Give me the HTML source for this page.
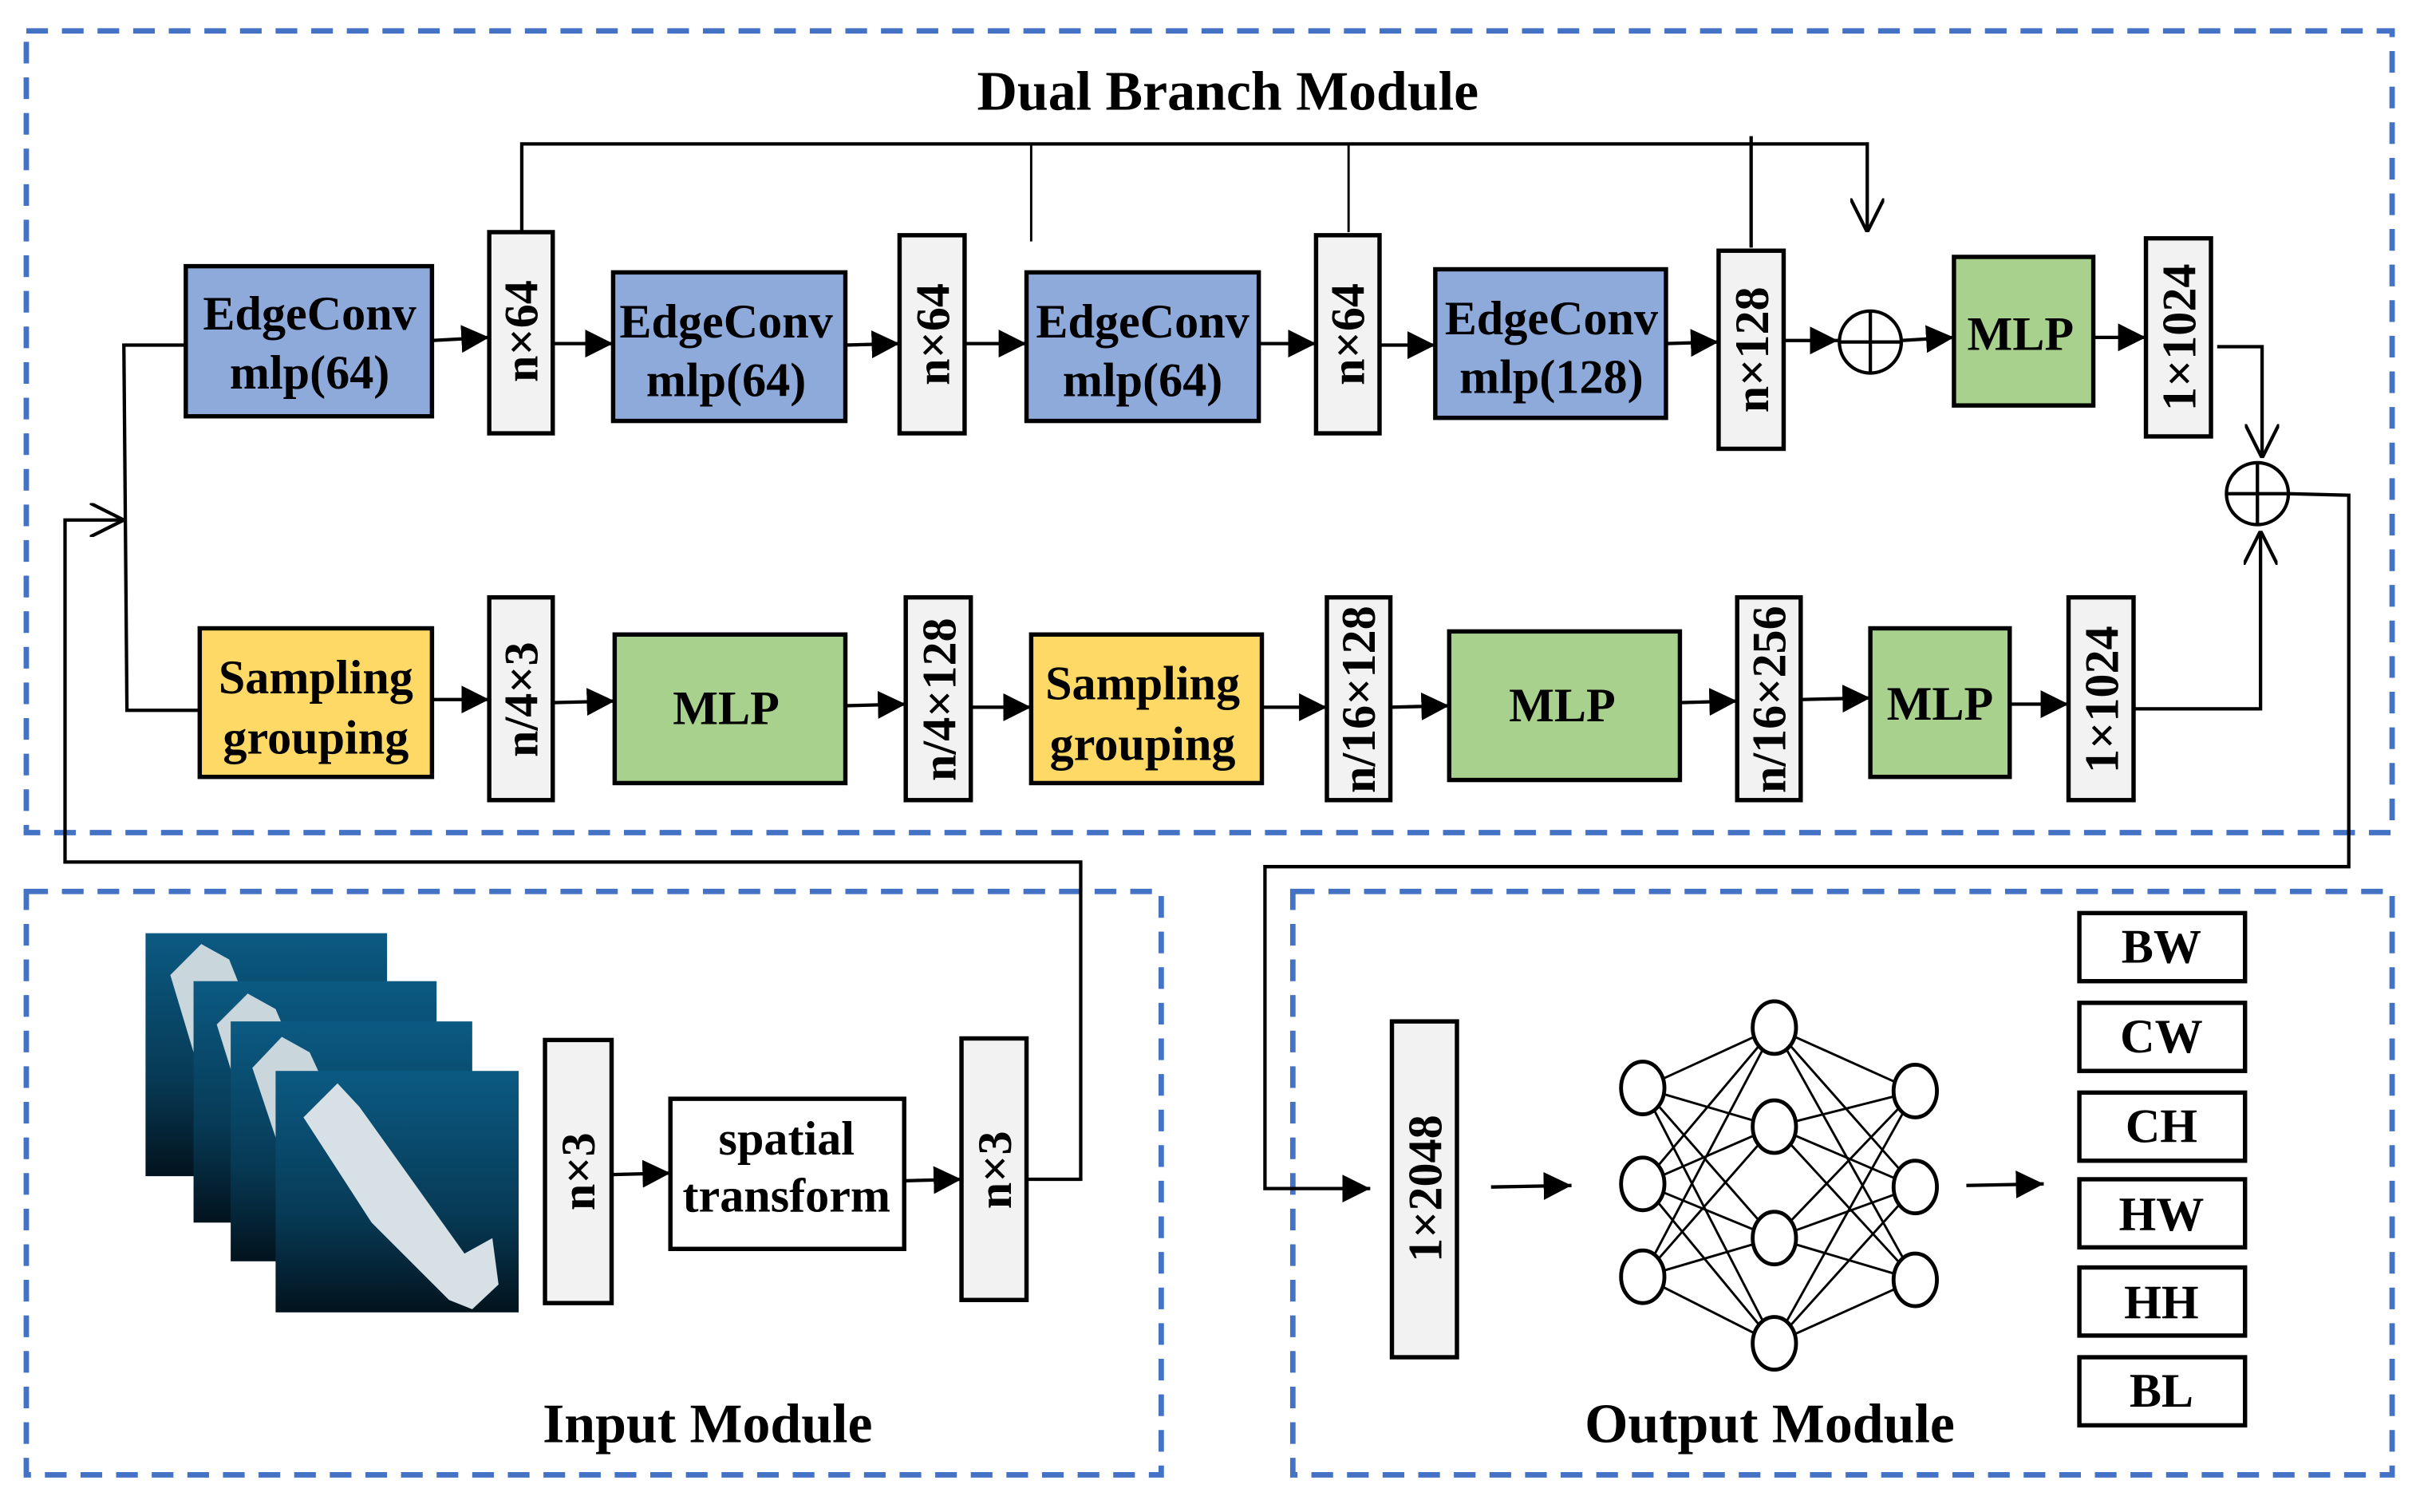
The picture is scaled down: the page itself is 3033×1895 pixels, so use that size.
<!DOCTYPE html>
<html><head><meta charset="utf-8"><style>html,body{margin:0;padding:0;background:#fff}svg{display:block}</style></head>
<body>
<svg width="3033" height="1895" viewBox="0 0 1563 977" preserveAspectRatio="none" xmlns="http://www.w3.org/2000/svg" font-family="'Liberation Serif', serif" font-weight="bold">
<defs>
<marker id="af" viewBox="0 0 10 10" refX="10" refY="5" markerWidth="18" markerHeight="18" markerUnits="userSpaceOnUse" orient="auto"><path d="M0,0L10,5L0,10z" fill="#000"/></marker>
<marker id="o" viewBox="0 0 10 10" refX="10" refY="5" markerWidth="22" markerHeight="22" markerUnits="userSpaceOnUse" orient="auto"><path d="M0,0L10,5L0,10" fill="none" stroke="#000" stroke-width="1"/></marker>
<linearGradient id="g" x1="0" y1="0" x2="0" y2="1"><stop offset="0" stop-color="#0b5a83"/><stop offset="0.6" stop-color="#073a55"/><stop offset="1" stop-color="#02131d"/></linearGradient>
</defs>
<g fill="none" stroke="#4472c4" stroke-width="3.5" stroke-dasharray="14 9">
<rect x="17" y="20" width="1528" height="518"/>
<rect x="17" y="576" width="733" height="377"/>
<rect x="835" y="576" width="710" height="377"/>
</g>
<text x="793" y="71" font-size="36" text-anchor="middle">Dual Branch Module</text>
<text x="457" y="932" font-size="36" text-anchor="middle">Input Module</text>
<text x="1143" y="932" font-size="36" text-anchor="middle">Output Module</text>

<g stroke="#000" stroke-width="2.8">
<rect x="120" y="172" width="159" height="97" fill="#8eaadb"/>
<rect x="396" y="176" width="150" height="96" fill="#8eaadb"/>
<rect x="663" y="176" width="150" height="96" fill="#8eaadb"/>
<rect x="927" y="174" width="149" height="96" fill="#8eaadb"/>
<rect x="316" y="150" width="41" height="130" fill="#f2f2f2"/>
<rect x="581" y="152" width="42" height="128" fill="#f2f2f2"/>
<rect x="850" y="152" width="41" height="128" fill="#f2f2f2"/>
<rect x="1110" y="162" width="42" height="128" fill="#f2f2f2"/>
<rect x="1262" y="166" width="90" height="96" fill="#a9d18e"/>
<rect x="1386" y="154" width="42" height="128" fill="#f2f2f2"/>
<rect x="129" y="406" width="150" height="96" fill="#ffd966"/>
<rect x="397" y="410" width="149" height="96" fill="#a9d18e"/>
<rect x="666" y="410" width="149" height="96" fill="#ffd966"/>
<rect x="936" y="408" width="149" height="96" fill="#a9d18e"/>
<rect x="1208" y="406" width="90" height="96" fill="#a9d18e"/>
<rect x="316" y="386" width="41" height="131" fill="#f2f2f2"/>
<rect x="585" y="386" width="42" height="131" fill="#f2f2f2"/>
<rect x="857" y="386" width="41" height="131" fill="#f2f2f2"/>
<rect x="1122" y="386" width="41" height="131" fill="#f2f2f2"/>
<rect x="1336" y="386" width="42" height="131" fill="#f2f2f2"/>
<rect x="352" y="672" width="43" height="170" fill="#f2f2f2"/>
<rect x="433" y="710" width="151" height="97" fill="#fff"/>
<rect x="621" y="671" width="42" height="169" fill="#f2f2f2"/>
<rect x="899" y="660" width="42" height="217" fill="#f2f2f2"/>
<rect x="1343" y="590" width="107" height="44" fill="#fff"/>
<rect x="1343" y="648" width="107" height="44" fill="#fff"/>
<rect x="1343" y="706" width="107" height="44" fill="#fff"/>
<rect x="1343" y="762" width="107" height="44" fill="#fff"/>
<rect x="1343" y="819" width="107" height="44" fill="#fff"/>
<rect x="1343" y="877" width="107" height="44" fill="#fff"/>
</g>

<g>
<rect x="94" y="603" width="156" height="157" fill="url(#g)"/>
<path d="M110,630 L130,610 L148,620 L160,650 L125,680 Z" fill="#c9d6dc"/>
<rect x="125" y="634" width="157" height="156" fill="url(#g)"/>
<path d="M140,662 L160,642 L178,652 L190,680 L155,710 Z" fill="#c9d6dc"/>
<rect x="149" y="660" width="156" height="155" fill="url(#g)"/>
<path d="M163,690 L182,670 L200,680 L212,706 L178,735 Z" fill="#c9d6dc"/>
<rect x="178" y="692" width="157" height="156" fill="url(#g)"/>
<path d="M196,722 L218,700 L232,715 L300,810 L318,800 L322,830 L305,846 L290,840 L240,790 Z" fill="#d6e0e5"/>
</g>

<g stroke="#000" stroke-width="2.2" fill="none">
<line x1="279" y1="220" x2="316" y2="218" marker-end="url(#af)"/>
<line x1="357" y1="222" x2="396" y2="222" marker-end="url(#af)"/>
<line x1="546" y1="223" x2="581" y2="222" marker-end="url(#af)"/>
<line x1="623" y1="222" x2="663" y2="222" marker-end="url(#af)"/>
<line x1="813" y1="222" x2="850" y2="222" marker-end="url(#af)"/>
<line x1="891" y1="223" x2="927" y2="223" marker-end="url(#af)"/>
<line x1="1076" y1="222" x2="1110" y2="221" marker-end="url(#af)"/>
<line x1="1152" y1="220" x2="1187" y2="220" marker-end="url(#af)"/>
<line x1="1228" y1="220" x2="1262" y2="218" marker-end="url(#af)"/>
<line x1="1352" y1="218" x2="1386" y2="218" marker-end="url(#af)"/>
<line x1="279" y1="452" x2="316" y2="452" marker-end="url(#af)"/>
<line x1="357" y1="454" x2="397" y2="453" marker-end="url(#af)"/>
<line x1="546" y1="456" x2="585" y2="455" marker-end="url(#af)"/>
<line x1="627" y1="457" x2="666" y2="457" marker-end="url(#af)"/>
<line x1="815" y1="457" x2="857" y2="457" marker-end="url(#af)"/>
<line x1="898" y1="457" x2="936" y2="456" marker-end="url(#af)"/>
<line x1="1085" y1="454" x2="1122" y2="453" marker-end="url(#af)"/>
<line x1="1163" y1="452" x2="1208" y2="451" marker-end="url(#af)"/>
<line x1="1298" y1="455" x2="1336" y2="455" marker-end="url(#af)"/>
<line x1="395" y1="759" x2="433" y2="758" marker-end="url(#af)"/>
<line x1="584" y1="763" x2="621" y2="762" marker-end="url(#af)"/>
<line x1="963" y1="767" x2="1015" y2="766" marker-end="url(#af)"/>
<line x1="1270" y1="766" x2="1320" y2="765" marker-end="url(#af)"/>
<polyline points="337,150 337,93 1206,93 1206,150" marker-end="url(#o)"/>
<line x1="666" y1="93" x2="666" y2="156" stroke-width="1.5"/>
<line x1="871" y1="93" x2="871" y2="150" stroke-width="1.5"/>
<line x1="1131" y1="88" x2="1131" y2="160"/>
<polyline points="1432,224 1461,224 1461,296" marker-end="url(#o)"/>
<polyline points="1378,458 1460,458 1460,343" marker-end="url(#o)"/>
<polyline points="120,223 80,223 82,459 129,459"/>
<polyline points="663,762 698,762 698,557 42,557 42,336 80,336" marker-end="url(#o)"/>
<polyline points="1478,319 1517,320 1517,560 817,560 817,768 885,768" marker-end="url(#af)"/>
<circle cx="1208" cy="221" r="20"/>
<path d="M1188,221H1228M1208,201V241"/>
<circle cx="1458" cy="319" r="20"/>
<path d="M1438,319H1478M1458,299V339"/>
</g>

<g stroke="#000" stroke-width="1.5">
<path d="M1061,703L1146,664M1061,703L1146,728M1061,703L1146,800M1061,703L1146,868M1061,765L1146,664M1061,765L1146,728M1061,765L1146,800M1061,765L1146,868M1061,825L1146,664M1061,825L1146,728M1061,825L1146,800M1061,825L1146,868M1146,664L1237,705M1146,664L1237,767M1146,664L1237,827M1146,728L1237,705M1146,728L1237,767M1146,728L1237,827M1146,800L1237,705M1146,800L1237,767M1146,800L1237,827M1146,868L1237,705M1146,868L1237,767M1146,868L1237,827"/>
</g>
<g stroke="#000" stroke-width="2.5" fill="#fff">
<ellipse cx="1061" cy="703" rx="14" ry="17"/><ellipse cx="1061" cy="765" rx="14" ry="17"/><ellipse cx="1061" cy="825" rx="14" ry="17"/>
<ellipse cx="1146" cy="664" rx="14" ry="17"/><ellipse cx="1146" cy="728" rx="14" ry="17"/><ellipse cx="1146" cy="800" rx="14" ry="17"/><ellipse cx="1146" cy="868" rx="14" ry="17"/>
<ellipse cx="1237" cy="705" rx="14" ry="17"/><ellipse cx="1237" cy="767" rx="14" ry="17"/><ellipse cx="1237" cy="827" rx="14" ry="17"/>
</g>

<g font-size="31" text-anchor="middle">
<text x="200" y="213">EdgeConv</text><text x="200" y="251">mlp(64)</text>
<text x="469" y="218">EdgeConv</text><text x="469" y="256">mlp(64)</text>
<text x="738" y="218">EdgeConv</text><text x="738" y="256">mlp(64)</text>
<text x="1002" y="216">EdgeConv</text><text x="1002" y="254">mlp(128)</text>
<text x="1305" y="226">MLP</text>
<text x="204" y="448">Sampling</text><text x="204" y="487">grouping</text>
<text x="738" y="452">Sampling</text><text x="738" y="491">grouping</text>
<text x="469" y="468">MLP</text>
<text x="1009" y="466">MLP</text>
<text x="1253" y="465">MLP</text>
<text x="508" y="746">spatial</text><text x="508" y="783">transform</text>
<text x="1396" y="622">BW</text><text x="1396" y="680">CW</text><text x="1396" y="738">CH</text>
<text x="1396" y="795">HW</text><text x="1396" y="852">HH</text><text x="1396" y="909">BL</text>
</g>
<g font-size="31" text-anchor="middle">
<text transform="translate(347,214) rotate(-90)">n×64</text>
<text transform="translate(613,216) rotate(-90)">n×64</text>
<text transform="translate(881,216) rotate(-90)">n×64</text>
<text transform="translate(1142,226) rotate(-90)">n×128</text>
<text transform="translate(1418,218) rotate(-90)">1×1024</text>
<text transform="translate(347,452) rotate(-90)">n/4×3</text>
<text transform="translate(617,452) rotate(-90)">n/4×128</text>
<text transform="translate(888,452) rotate(-90)">n/16×128</text>
<text transform="translate(1153,452) rotate(-90)">n/16×256</text>
<text transform="translate(1368,452) rotate(-90)">1×1024</text>
<text transform="translate(384,757) rotate(-90)">n×3</text>
<text transform="translate(653,756) rotate(-90)">n×3</text>
<text transform="translate(931,768) rotate(-90)">1×2048</text>
</g>
</svg>
</body></html>
